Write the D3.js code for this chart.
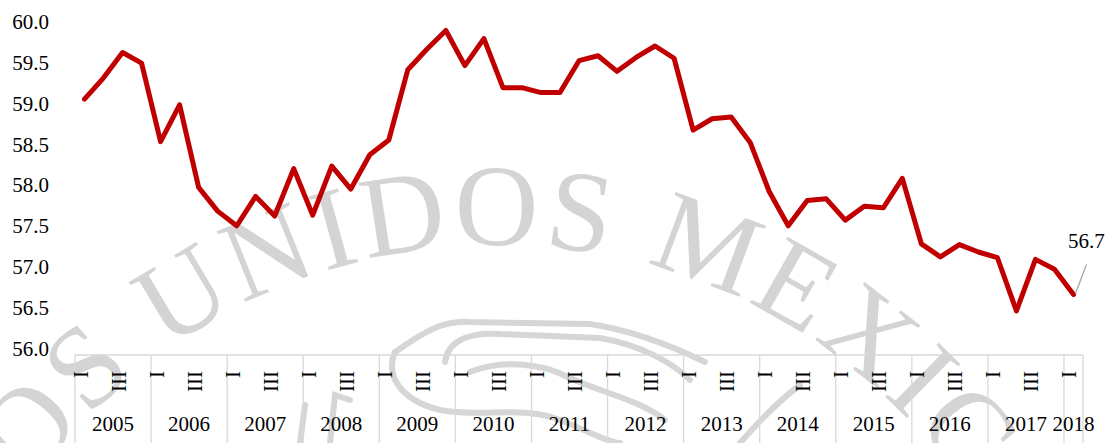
<!DOCTYPE html>
<html>
<head>
<meta charset="utf-8">
<script src="https://cdn.jsdelivr.net/npm/d3@7"></script>
<style>
  html, body { margin: 0; padding: 0; background: #fff; }
  svg { display: block; font-family: "Liberation Serif", "Times New Roman", serif; }
</style>
</head>
<body>
<svg id="grafico" width="1114" height="443"></svg>
<script>
// dados trimestrais, 2005-I a 2018-I
const VALORES = [
  59.13, 59.39, 59.70, 59.57,   // 2005
  58.61, 59.06, 58.05, 57.76,   // 2006
  57.58, 57.94, 57.70, 58.28,   // 2007
  57.71, 58.31, 58.03, 58.45,   // 2008
  58.63, 59.49, 59.74, 59.97,   // 2009
  59.54, 59.87, 59.27, 59.27,   // 2010
  59.21, 59.21, 59.60, 59.66,   // 2011
  59.47, 59.64, 59.78, 59.63,   // 2012
  58.75, 58.89, 58.91, 58.60,   // 2013
  58.00, 57.58, 57.89, 57.91,   // 2014
  57.65, 57.82, 57.80, 58.16,   // 2015
  57.36, 57.20, 57.35, 57.26,   // 2016
  57.19, 56.54, 57.17, 57.05,   // 2017
  56.74                         // 2018
];
const ANOS = ["2005", "2006", "2007", "2008", "2009", "2010", "2011",
              "2012", "2013", "2014", "2015", "2016", "2017", "2018"];
const TRIMESTRES = ["I", "", "III", ""];
const Y_TICKS = [56.0, 56.5, 57.0, 57.5, 58.0, 58.5, 59.0, 59.5, 60.0];
const MARCA = "ESTADOS UNIDOS MEXICANOS";

const COR_LINHA = "#c00000";
const COR_GRADE = "#d9d9d9";

const $svg = d3.select("#grafico");
const W = 1114, H = 443;

const x = d3.scaleBand()
  .domain(d3.range(VALORES.length))
  .range([75, 1083]);

const y = d3.scaleLinear()
  .domain([56, 60])
  .range([355, 28]);

const cx = i => x(i) + x.bandwidth() / 2;

// marca d'água (escudo) ao fundo
const $marca = $svg.append("g").attr("class", "marca");
const CENTRO = [497, 817], RAIO = 572;
const arco = d3.path();
arco.arc(CENTRO[0], CENTRO[1], RAIO, Math.PI * 5 / 6, Math.PI * 13 / 6, false);
$svg.append("defs").append("path")
  .attr("id", "arco-marca")
  .attr("d", arco.toString());

$marca.append("text")
  .attr("font-size", 116)
  .attr("letter-spacing", 5)
  .attr("fill", "#d4d4d4")
  .attr("text-anchor", "middle")
  .append("textPath")
  .attr("href", "#arco-marca")
  .attr("startOffset", RAIO * Math.PI * 2 / 3 - 25)
  .text(MARCA);

// alguns traços do escudo (águila), só para dar a textura
const tracos = [
  "M395,352 C420,335 440,320 470,322 L590,324 C630,330 670,345 705,362",
  "M445,362 C448,340 470,332 500,334 L600,338 C640,345 672,362 690,380",
  "M395,352 C385,375 400,400 440,410 C480,418 520,405 560,420 C590,432 610,443 620,443",
  "M470,372 C500,360 540,362 570,378 C600,392 640,400 665,420",
  "M300,443 L305,405 M330,443 L335,395 L350,400",
  "M740,443 C760,420 780,400 800,385"
];
$marca.selectAll("path.traco")
  .data(tracos)
  .enter()
  .append("path")
  .attr("class", "traco")
  .attr("d", d => d)
  .attr("fill", "none")
  .attr("stroke", "#d6d6d6")
  .attr("stroke-width", 6)
  .attr("stroke-linecap", "round");

// eixo Y
const $eixoY = $svg.append("g")
  .attr("transform", "translate(75,0)")
  .call(d3.axisLeft(y)
    .tickValues(Y_TICKS)
    .tickFormat(d3.format(".1f"))
    .tickSize(0)
    .tickPadding(26));
$eixoY.select(".domain").remove();
$eixoY.selectAll("text")
  .attr("dy", "0.02em")
  .attr("font-size", 21)
  .attr("font-family", "Liberation Serif, Times New Roman, serif")
  .attr("fill", "#000");

// eixo X em dois níveis (trimestre / ano)
const $eixoX = $svg.append("g").attr("class", "eixo-x");
const xIni = x(0), xFim = x(VALORES.length - 1) + x.bandwidth();

$eixoX.append("line")
  .attr("x1", xIni).attr("x2", xFim)
  .attr("y1", y(56)).attr("y2", y(56))
  .attr("stroke", COR_GRADE).attr("stroke-width", 1.3);

const limites = ANOS.map((a, k) => x(k * 4)).concat([xFim]);
$eixoX.selectAll("line.sep")
  .data(limites)
  .enter()
  .append("line")
  .attr("class", "sep")
  .attr("x1", d => d).attr("x2", d => d)
  .attr("y1", y(56)).attr("y2", H)
  .attr("stroke", COR_GRADE).attr("stroke-width", 1.3);

$eixoX.selectAll("text.tri")
  .data(VALORES.map((v, i) => i).filter(i => TRIMESTRES[i % 4] !== ""))
  .enter()
  .append("text")
  .attr("class", "tri")
  .attr("transform", i => `translate(${cx(i) + 3},371) rotate(-90)`)
  .attr("text-anchor", "end")
  .attr("font-size", 21)
  .text(i => TRIMESTRES[i % 4]);

$eixoX.selectAll("text.ano")
  .data(ANOS)
  .enter()
  .append("text")
  .attr("class", "ano")
  .attr("x", (a, k) => {
    const ini = x(k * 4);
    const fim = Math.min(k * 4 + 3, VALORES.length - 1);
    return (ini + x(fim) + x.bandwidth()) / 2;
  })
  .attr("y", 431)
  .attr("text-anchor", "middle")
  .attr("font-size", 21)
  .text(a => a);

// linha
const linha = d3.line()
  .x((d, i) => cx(i))
  .y(d => y(d));

$svg.append("path")
  .datum(VALORES)
  .attr("d", linha)
  .attr("fill", "none")
  .attr("stroke", COR_LINHA)
  .attr("stroke-width", 5)
  .attr("stroke-linejoin", "round")
  .attr("stroke-linecap", "round");

// rótulo do último valor, com linha de chamada
const ult = VALORES.length - 1;
const px = cx(ult), py = y(VALORES[ult]);
$svg.append("line")
  .attr("x1", px + 2).attr("y1", py - 1)
  .attr("x2", px + 13).attr("y2", py - 30)
  .attr("stroke", "#a6a6a6").attr("stroke-width", 1.3);
$svg.append("text")
  .attr("x", px + 13)
  .attr("y", py - 47)
  .attr("text-anchor", "middle")
  .attr("font-size", 21)
  .text(d3.format(".1f")(VALORES[ult]));
</script>
</body>
</html>
